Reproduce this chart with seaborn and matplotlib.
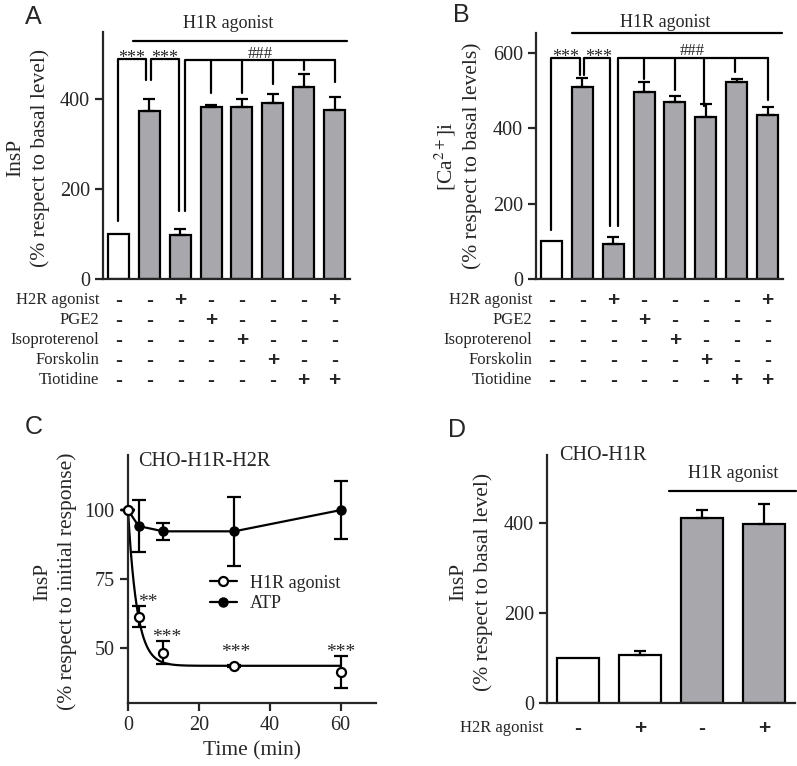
import numpy as np
import pandas as pd
import matplotlib
matplotlib.use("Agg")
import matplotlib.pyplot as plt
import seaborn as sns
from matplotlib.lines import Line2D

sns.set_style("ticks")
plt.rcParams['font.family'] = ['Liberation Serif', 'DejaVu Serif']
plt.rcParams['mathtext.fontset'] = 'stix'

# ---------------- data ----------------
# panel A: InsP (% of basal)
insp_a = [100, 375, 98, 383, 383, 391, 427, 376]
insp_a_err = [0, 25, 13, 4, 17, 20, 29, 30]
# panel B: [Ca2+]i (% of basal)
ca_b = [100, 510, 93, 496, 470, 430, 523, 435]
ca_b_err = [0, 23, 19, 27, 16, 34, 8, 21]
fill_ab = ["white"] + ["gray"] * 7

treat_names = ["H2R agonist", "PGE2", "Isoproterenol", "Forskolin", "Tiotidine"]
h2r_signs = ["-", "-", "+", "-", "-", "-", "-", "+"]
pge2_signs = ["-", "-", "-", "+", "-", "-", "-", "-"]
iso_signs = ["-", "-", "-", "-", "+", "-", "-", "-"]
fsk_signs = ["-", "-", "-", "-", "-", "+", "-", "-"]
tio_signs = ["-", "-", "-", "-", "-", "-", "+", "+"]
table_ab = [h2r_signs, pge2_signs, iso_signs, fsk_signs, tio_signs]

# panel C: time course
time_min = [0, 3, 10, 30, 60]
h1r_resp = [100, 61.3, 48.2, 43.4, 41.2]
h1r_err = [0, 3.8, 4.2, 0.5, 5.8]
atp_resp = [100, 94.2, 92.3, 92.3, 100]
atp_err = [0, 9.4, 3.2, 12.5, 10.5]
# one-phase decay fit
fit_plateau = 43.5
fit_k = 0.39

# panel D: CHO-H1R
insp_d = [100, 107, 411, 398]
insp_d_err = [0, 9, 18, 44]
fill_d = ["white", "white", "gray", "gray"]
h2r_signs_d = ["-", "+", "-", "+"]

GRAY = "#a6a6ad"
LW = 1.6
W, H = 797, 766
YLAB = 15.5
TICK = 14.5

fig = plt.figure(figsize=(W / 100, H / 100), dpi=100)


def px_axes(left, top, right, bottom):
    return fig.add_axes([left / W, 1 - bottom / H, (right - left) / W, (bottom - top) / H])


def style_axes(ax):
    sns.despine(ax=ax)
    for s in ["left", "bottom"]:
        ax.spines[s].set_linewidth(LW)
    ax.tick_params(direction="out", length=6, width=LW, labelsize=TICK)


def bar_panel(ax, vals, errs, fills):
    df = pd.DataFrame({"cond": [str(i) for i in range(len(vals))], "val": vals})
    pal = [GRAY if f == "gray" else "white" for f in fills]
    sns.barplot(data=df, x="cond", y="val", hue="cond", palette=pal, legend=False,
                edgecolor="black", linewidth=LW, width=0.68, errorbar=None, ax=ax)
    x = np.arange(len(vals))
    e = np.array(errs)
    m = e > 0
    ax.errorbar(x[m], np.array(vals)[m], yerr=[np.zeros(m.sum()), e[m]], fmt="none",
                ecolor="black", elinewidth=LW, capsize=4, capthick=LW)
    ax.set_xlim(-0.5, len(vals) - 0.5)
    ax.set_xticks([])
    ax.set_xlabel("")
    style_axes(ax)


def bracket(ax, x0, x1, ytop, y0, y1):
    ax.plot([x0, x0, x1, x1], [y0, ytop, ytop, y1], color="black", lw=LW, clip_on=False)


def sign_table(ax, rows, names, ax_h, first=21):
    for i, (signs, name) in enumerate(zip(rows, names)):
        yf = -(first + 20 * i) / ax_h
        ax.text(-0.016, yf, name, transform=ax.transAxes, ha="right", va="center", fontsize=12)
        for j, s in enumerate(signs):
            ax.text(j, yf, s, transform=ax.get_xaxis_transform(), ha="center", va="center",
                    fontsize=15, fontweight="bold", family="Liberation Sans")


# ---------------- A ----------------
axA = px_axes(103, 32, 350, 279)
bar_panel(axA, insp_a, insp_a_err, fill_ab)
axA.set_ylim(0, 550)
axA.set_yticks([0, 200, 400])
axA.set_ylabel("InsP\n(% respect to basal level)", fontsize=YLAB, linespacing=1.35)
axA.yaxis.set_label_coords(-0.215, 0.49)
axA.plot([0.48, 7.4], [529, 529], color="black", lw=LW, clip_on=False)
axA.text(3.55, 569, "H1R agonist", ha="center", va="center", fontsize=13)
bracket(axA, 0, 0.88, 490, 129, 444)
bracket(axA, 1.05, 1.97, 490, 444, 151)
axA.plot([2.16, 2.16, 7.0], [151, 487, 487], color="black", lw=LW)
for xl, yl in zip([3, 4, 5, 6, 7], [415, 415, 435, 465, 438]):
    axA.plot([xl, xl], [487, yl], color="black", lw=LW)
axA.text(0.44, 482, "***", ha="center", va="baseline", fontsize=13)
axA.text(1.5, 482, "***", ha="center", va="baseline", fontsize=13)
axA.text(4.6, 493, "###", ha="center", va="baseline", fontsize=12)
sign_table(axA, table_ab, treat_names, 247)

# ---------------- B ----------------
axB = px_axes(536, 33, 783, 279)
bar_panel(axB, ca_b, ca_b_err, fill_ab)
axB.set_ylim(0, 653)
axB.set_yticks([0, 200, 400, 600])
axB.set_ylabel("[Ca$^{2+}$]i\n(% respect to basal levels)", fontsize=YLAB, linespacing=1.25)
axB.yaxis.set_label_coords(-0.219, 0.5)
axB.plot([0.68, 7.47], [653, 653], color="black", lw=LW, clip_on=False)
axB.text(3.7, 682, "H1R agonist", ha="center", va="center", fontsize=13)
bracket(axB, 0, 0.94, 587, 130, 541)
bracket(axB, 1.04, 1.9, 587, 541, 141)
axB.plot([2.14, 2.14, 7.0], [141, 587, 587], color="black", lw=LW)
for xl, yl in zip([3, 4, 4.95, 5.95, 7], [531, 502, 459, 550, 475]):
    axB.plot([xl, xl], [587, yl], color="black", lw=LW)
axB.text(0.47, 577, "***", ha="center", va="baseline", fontsize=13)
axB.text(1.52, 577, "***", ha="center", va="baseline", fontsize=13)
axB.text(4.56, 594, "###", ha="center", va="baseline", fontsize=12)
sign_table(axB, table_ab, treat_names, 246)

# ---------------- C ----------------
axC = px_axes(128, 455, 376, 703)
t_fit = np.linspace(0, 60, 300)
fit_df = pd.DataFrame({"t": t_fit, "y": fit_plateau + (100 - fit_plateau) * np.exp(-fit_k * t_fit)})
sns.lineplot(data=fit_df, x="t", y="y", color="black", lw=LW, ax=axC)
atp_df = pd.DataFrame({"t": time_min, "y": atp_resp})
sns.lineplot(data=atp_df, x="t", y="y", color="black", lw=LW, ax=axC)
axC.errorbar(time_min, atp_resp, yerr=atp_err, fmt="o", color="black", ms=6.5,
             elinewidth=LW, capsize=5, capthick=LW, clip_on=False, zorder=4)
axC.errorbar(time_min, h1r_resp, yerr=h1r_err, fmt="o", color="black", mfc="white", ms=6.5, mew=LW,
             elinewidth=LW, capsize=5, capthick=LW, clip_on=False, zorder=5)
axC.set_xlim(0, 70)
axC.set_ylim(30, 120)
axC.set_xticks([0, 20, 40, 60])
axC.set_yticks([50, 75, 100])
style_axes(axC)
axC.set_xlabel("Time (min)", fontsize=15.5)
axC.set_ylabel("InsP\n(% respect to initial response)", fontsize=YLAB, linespacing=1.35)
axC.yaxis.set_label_coords(-0.206, 0.49)
axC.text(2.8, 117.5, "CHO-H1R-H2R", ha="left", va="center", fontsize=14.5)
axC.text(5.7, 65, "**", ha="center", va="baseline", fontsize=14)
axC.text(10.8, 52.2, "***", ha="center", va="baseline", fontsize=14)
axC.text(30.3, 46.7, "***", ha="center", va="baseline", fontsize=14)
axC.text(60, 46.7, "***", ha="center", va="baseline", fontsize=14)
handles = [
    Line2D([0], [0], color="black", lw=LW, marker="o", mfc="white", mew=LW, ms=6.5),
    Line2D([0], [0], color="black", lw=LW, marker="o", ms=6.5),
]
axC.legend(handles, ["H1R agonist", "ATP"], frameon=False, loc="upper left",
           bbox_to_anchor=(0.33, 0.518), borderpad=0, borderaxespad=0,
           handlelength=1.5, handletextpad=0.7, labelspacing=0.2, fontsize=13)

# ---------------- D ----------------
axD = px_axes(547, 455, 795, 703)
bar_panel(axD, insp_d, insp_d_err, fill_d)
axD.set_ylim(0, 551)
axD.set_yticks([0, 200, 400])
axD.set_ylabel("InsP\n(% respect to basal level)", fontsize=YLAB, linespacing=1.35)
axD.yaxis.set_label_coords(-0.218, 0.49)
axD.plot([1.47, 3.52], [471, 471], color="black", lw=LW, clip_on=False)
axD.text(2.5, 511, "H1R agonist", ha="center", va="center", fontsize=13)
axD.text(-0.31, 551, "CHO-H1R", ha="left", va="center", fontsize=14.5)
sign_table(axD, [h2r_signs_d], ["H2R agonist"], 248, first=25)

# panel letters
for lab, (xp, yp) in zip("ABCD", [(33, 17), (461, 15), (34, 427), (457, 430)]):
    fig.text(xp / W, 1 - yp / H, lab, ha="center", va="center", fontsize=18, family="Liberation Sans")

fig.savefig("out.png", dpi=100)
